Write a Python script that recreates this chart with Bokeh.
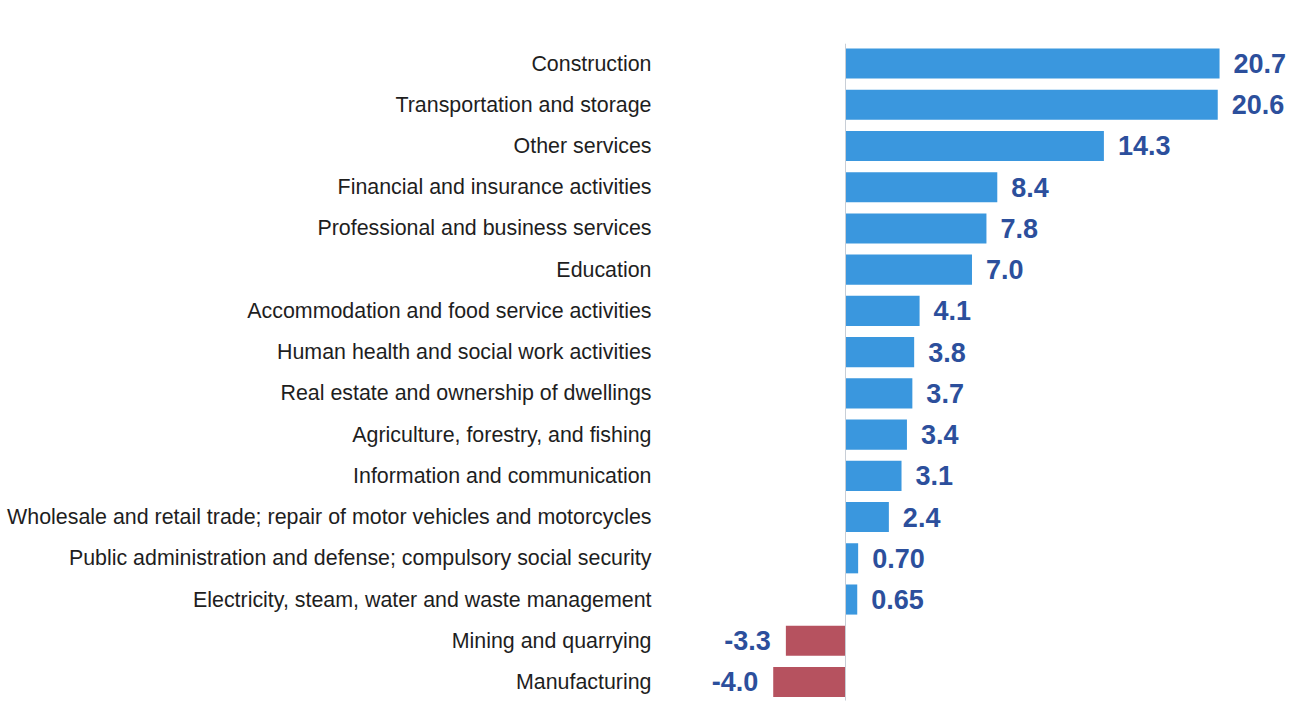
from bokeh.plotting import figure
from bokeh.models import ColumnDataSource, Range1d
from bokeh.core.properties import value
from bokeh.embed import file_html
from bokeh.resources import INLINE

categories = [
    "Construction",
    "Transportation and storage",
    "Other services",
    "Financial and insurance activities",
    "Professional and business services",
    "Education",
    "Accommodation and food service activities",
    "Human health and social work activities",
    "Real estate and ownership of dwellings",
    "Agriculture, forestry, and fishing",
    "Information and communication",
    "Wholesale and retail trade; repair of motor vehicles and motorcycles",
    "Public administration and defense; compulsory social security",
    "Electricity, steam, water and waste management",
    "Mining and quarrying",
    "Manufacturing",
]
values = [20.7, 20.6, 14.3, 8.4, 7.8, 7.0, 4.1, 3.8, 3.7, 3.4, 3.1, 2.4, 0.70, 0.65, -3.3, -4.0]
value_labels = ["20.7", "20.6", "14.3", "8.4", "7.8", "7.0", "4.1", "3.8", "3.7", "3.4",
                "3.1", "2.4", "0.70", "0.65", "-3.3", "-4.0"]

n = len(categories)
ypos = [n - 1 - i for i in range(n)]
POS = "#3a97de"
NEG = "#b6525f"
colors = [POS if v >= 0 else NEG for v in values]

src = ColumnDataSource(dict(cat=categories, val=values, lab=value_labels, y=ypos, color=colors))
pos = ColumnDataSource(dict(val=[v for v in values if v >= 0],
                            lab=[l for l, v in zip(value_labels, values) if v >= 0],
                            y=[y for y, v in zip(ypos, values) if v >= 0]))
neg = ColumnDataSource(dict(val=[v for v in values if v < 0],
                            lab=[l for l, v in zip(value_labels, values) if v < 0],
                            y=[y for y, v in zip(ypos, values) if v < 0]))

W, H = 1290, 710
zero_px = 845.0
ppu = 18.07
row = 41.23
top_c = 63.0
bot_c = 681.5
p = figure(width=W, height=H, output_backend="svg", toolbar_location=None,
           x_range=Range1d(-zero_px / ppu, (W - zero_px) / ppu),
           y_range=Range1d(-(H - bot_c) / row, (n - 1) + top_c / row),
           min_border=0, min_border_left=0, min_border_right=0,
           min_border_top=0, min_border_bottom=0)
p.axis.visible = False
p.grid.visible = False
p.outline_line_color = None
p.background_fill_color = "#ffffff"
p.border_fill_color = "#ffffff"

p.hbar(y="y", left=0, right="val", height=0.73, color="color", line_color=None, source=src)

p.segment(x0=0, x1=0, y0=-0.45, y1=n - 0.52, line_color="#c8ced6", line_width=1)

p.text(x=0, y="y", text="cat", source=src, x_offset=-194, text_align="right",
       text_baseline="middle", text_font=value("Liberation Sans"), text_font_size="21.4px",
       text_color="#1e1e1e")

p.text(x="val", y="y", text="lab", source=pos, x_offset=14, text_align="left",
       text_baseline="middle", text_font=value("Liberation Sans"), text_font_size="27px",
       text_font_style="bold", text_color="#2c4f9c")
p.text(x="val", y="y", text="lab", source=neg, x_offset=-15, text_align="right",
       text_baseline="middle", text_font=value("Liberation Sans"), text_font_size="27px",
       text_font_style="bold", text_color="#2c4f9c")

open("out.html", "w").write(file_html(p, INLINE))
